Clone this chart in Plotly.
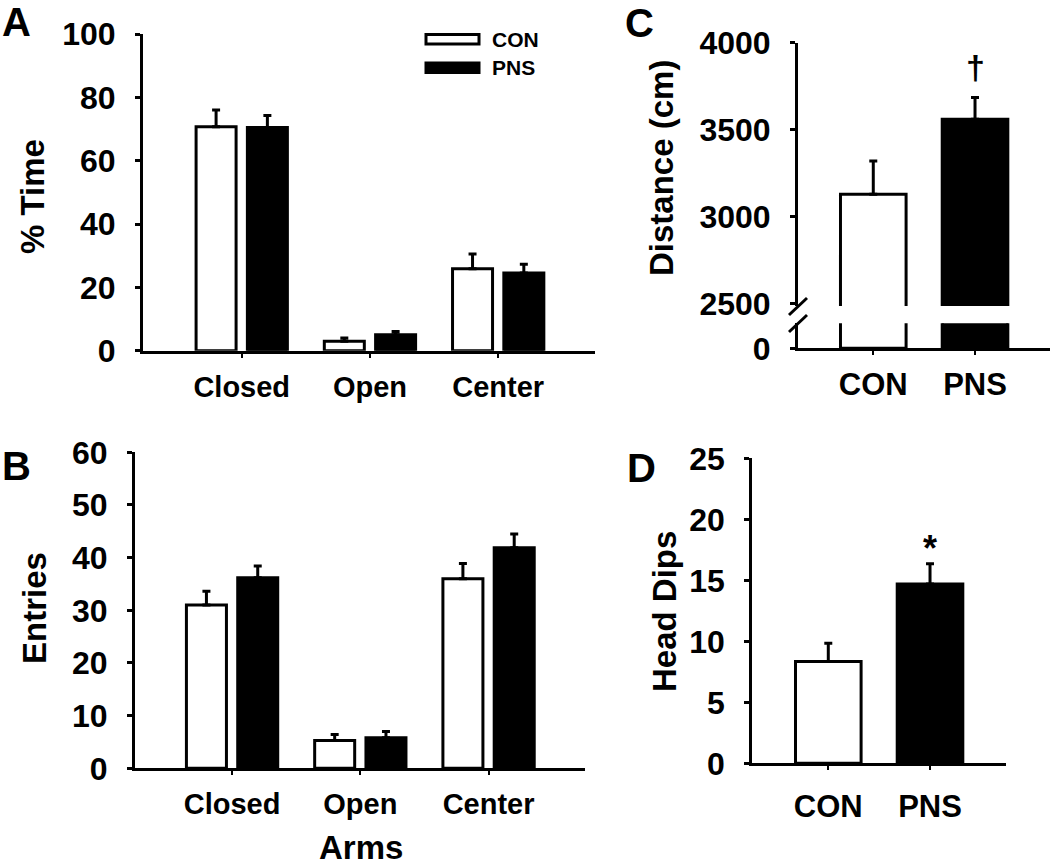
import plotly.graph_objects as go

# ---------------- data ----------------
arms = ["Closed", "Open", "Center"]
time_con = [70.7, 3.0, 25.9]
time_con_err = [5.3, 1.0, 4.6]
time_pns = [70.5, 5.0, 24.5]
time_pns_err = [3.8, 1.1, 2.8]

entries_con = [31.0, 5.3, 36.0]
entries_con_err = [2.6, 1.1, 2.9]
entries_pns = [36.2, 5.8, 41.9]
entries_pns_err = [2.2, 1.2, 2.6]

groups = ["CON", "PNS"]
group_colors = ["white", "black"]
distance = [3130, 3560]
distance_err = [190, 125]
head_dips = [8.35, 14.7]
head_dips_err = [1.5, 1.65]

# ---------------- helpers ----------------
W, H = 1050, 867
FONT = "Liberation Sans, Arial, sans-serif"


def fx(px):
    return px / W


def fy(py):
    return 1 - py / H


def err(arr):
    return dict(type="data", symmetric=False, array=arr, arrayminus=[0] * len(arr),
                color="black", thickness=3, width=4)


line = dict(color="black", width=3)

fig = go.Figure()

# Panel A
fig.add_trace(go.Bar(x=arms, y=time_con, marker=dict(color="white", line=line),
                     error_y=err(time_con_err), xaxis="x", yaxis="y", name="CON"))
fig.add_trace(go.Bar(x=arms, y=time_pns, marker=dict(color="black", line=line),
                     error_y=err(time_pns_err), xaxis="x", yaxis="y", name="PNS"))
# Panel B
fig.add_trace(go.Bar(x=arms, y=entries_con, marker=dict(color="white", line=line),
                     error_y=err(entries_con_err), xaxis="x2", yaxis="y2", name="CON"))
fig.add_trace(go.Bar(x=arms, y=entries_pns, marker=dict(color="black", line=line),
                     error_y=err(entries_pns_err), xaxis="x2", yaxis="y2", name="PNS"))
# Panel C (broken axis: upper + lower part)
fig.add_trace(go.Bar(x=groups, y=distance, width=0.645,
                     marker=dict(color=group_colors, line=line),
                     error_y=err(distance_err), xaxis="x3", yaxis="y3"))
fig.add_trace(go.Bar(x=groups, y=distance, width=0.645,
                     marker=dict(color=group_colors, line=line),
                     xaxis="x4", yaxis="y4"))
# Panel D
fig.add_trace(go.Bar(x=groups, y=head_dips, width=0.645,
                     marker=dict(color=group_colors, line=line),
                     error_y=err(head_dips_err), xaxis="x5", yaxis="y5"))

tick_font = dict(family=FONT, size=32, color="black", weight="bold")
cxt_font = dict(family=FONT, size=31, color="black", weight="bold")
cat_font = dict(family=FONT, size=29, color="black", weight="bold")

ybase = dict(showline=True, linecolor="black", linewidth=3, ticks="outside", ticklen=5,
             tickwidth=3, tickcolor="black", showgrid=False, zeroline=False,
             tickfont=tick_font, ticklabelstandoff=13, automargin=False)
xbase = dict(showline=True, linecolor="black", linewidth=3, ticks="outside", ticklen=4,
             tickwidth=2, tickcolor="black", showgrid=False, zeroline=False,
             tickfont=cat_font, ticklabelstandoff=4, automargin=False)

fig.update_layout(
    template="none",
    width=W, height=H,
    margin=dict(l=0, r=0, t=0, b=0, pad=0, autoexpand=False),
    paper_bgcolor="white", plot_bgcolor="white",
    showlegend=False,
    barmode="group", bargap=0.2, bargroupgap=0.22,
    font=dict(family=FONT, color="black", weight="bold"),
    # A
    xaxis=dict(xbase, domain=[fx(143), fx(595)], range=[-0.77, 2.755], anchor="y"),
    yaxis=dict(ybase, domain=[fy(350.7), fy(34)], range=[0, 100], dtick=20, anchor="x"),
    # B
    xaxis2=dict(xbase, domain=[fx(135), fx(585)], range=[-0.757, 2.752], anchor="y2"),
    yaxis2=dict(ybase, domain=[fy(768.3), fy(452.3)], range=[0, 60], dtick=10, anchor="x2"),
    # C top
    xaxis3=dict(domain=[fx(798), fx(1050)], range=[-0.74, 1.737], anchor="y3",
                showline=False, showticklabels=False, ticks="", showgrid=False,
                zeroline=False, automargin=False),
    yaxis3=dict(ybase, domain=[fy(306), fy(42.7)], range=[2488, 4000],
                tickvals=[2500, 3000, 3500, 4000], anchor="x3"),
    # C bottom
    xaxis4=dict(dict(xbase, tickfont=cxt_font, ticklabelstandoff=2), domain=[fx(798), fx(1050)],
                range=[-0.74, 1.737], anchor="y4"),
    yaxis4=dict(ybase, domain=[fy(348.3), fy(323.3)], range=[0, 500],
                tickvals=[0], anchor="x4"),
    # D
    xaxis5=dict(dict(xbase, tickfont=cxt_font, ticklabelstandoff=9), domain=[fx(752.3), fx(1005.7)],
                range=[-0.747, 1.744], anchor="y5"),
    yaxis5=dict(ybase, domain=[fy(763.3), fy(458.3)], range=[0, 25], dtick=5, anchor="x5"),
)

title_font = dict(family=FONT, size=33, color="black", weight="bold")
letter_font = dict(family=FONT, size=40, color="black", weight="bold")

ann = []
# panel letters
for txt, px, py in [("A", 16, 22), ("B", 16, 466), ("C", 639, 23), ("D", 641, 468)]:
    ann.append(dict(text=txt, x=fx(px), y=fy(py), xref="paper", yref="paper",
                    xanchor="center", yanchor="middle", showarrow=False, font=letter_font))
# axis titles
for txt, px, py, ang in [("% Time", 32, 197, -90), ("Entries", 34, 608, -90),
                         ("Distance (cm)", 662, 168, -90), ("Head Dips", 664, 612, -90),
                         ("Arms", 361, 847, 0)]:
    ann.append(dict(text=txt, x=fx(px), y=fy(py), xref="paper", yref="paper",
                    xanchor="center", yanchor="middle", showarrow=False,
                    textangle=ang, font=title_font))
# significance marks
ann.append(dict(text="†", x="PNS", y=3860, xref="x3", yref="y3", showarrow=False,
                xanchor="center", yanchor="middle",
                font=dict(family=FONT, size=34, color="black", weight="bold")))
ann.append(dict(text="*", x="PNS", y=17.6, xref="x5", yref="y5", showarrow=False,
                xanchor="center", yanchor="middle",
                font=dict(family=FONT, size=36, color="black", weight="bold")))
# legend texts
leg_font = dict(family=FONT, size=21, color="black", weight="bold")
for txt, py in [("CON", 39.5), ("PNS", 67.5)]:
    ann.append(dict(text=txt, x=fx(490), y=fy(py), xref="paper", yref="paper",
                    xanchor="left", yanchor="middle", showarrow=False, font=leg_font))
fig.update_layout(annotations=ann)

shapes = []
# legend swatches
shapes.append(dict(type="rect", xref="paper", yref="paper", x0=fx(426), x1=fx(479),
                   y0=fy(44), y1=fy(34.5), fillcolor="white", line=dict(color="black", width=3)))
shapes.append(dict(type="rect", xref="paper", yref="paper", x0=fx(426), x1=fx(479),
                   y0=fy(72.5), y1=fy(63), fillcolor="black", line=dict(color="black", width=3)))
# axis break marks on panel C
for cy in (306.5, 323.5):
    shapes.append(dict(type="line", xref="paper", yref="paper",
                       x0=fx(789), y0=fy(cy + 8.5), x1=fx(807), y1=fy(cy - 8.5),
                       line=dict(color="black", width=3)))
fig.update_layout(shapes=shapes)

fig.write_html("out.html", config={"displayModeBar": False},
               post_script="document.body.style.margin='0';document.body.style.padding='0';")
